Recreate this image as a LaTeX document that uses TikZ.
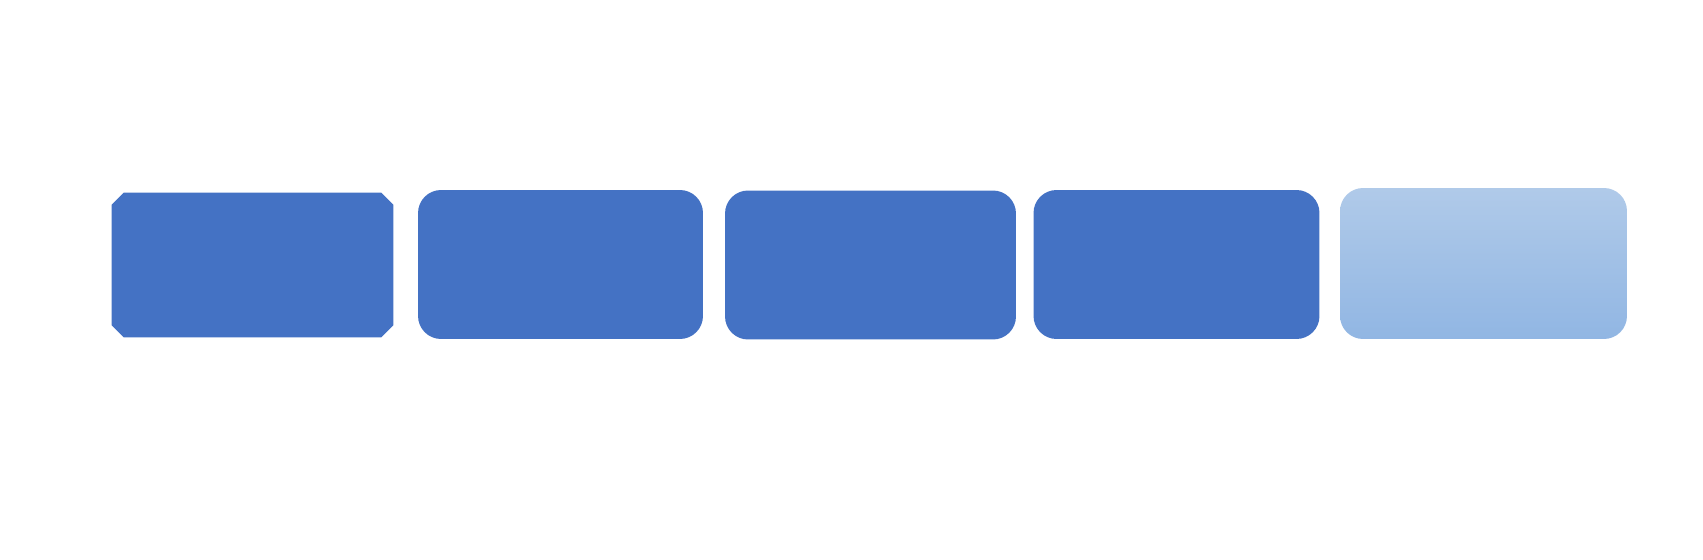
\documentclass[tikz,border=0pt]{standalone}
\usepackage{tikz}
\usetikzlibrary{positioning}
\usepackage{xcolor}
\definecolor{mainblue}{RGB}{68,114,196}
\definecolor{paletop}{RGB}{176,202,233}
\definecolor{palebot}{RGB}{145,182,227}

\begin{document}
\begin{tikzpicture}[x=0.02cm,y=-0.02cm,
  blockbox/.style={fill=mainblue,inner sep=0pt,minimum height=2.98cm,rounded corners=0.46cm},
  cutbox/.style={inner sep=0pt,minimum width=5.62cm,minimum height=2.88cm},
  palebox/.style={top color=paletop,bottom color=palebot,draw=none,inner sep=0pt,
    minimum height=3.02cm,rounded corners=0.46cm}]
\useasboundingbox (0,0) rectangle (1703,560);
% row of blocks
\node[cutbox] (blockA) at (252.5,265) {};
\fill[mainblue] ([xshift=0.24cm]blockA.north west) -- ([xshift=-0.24cm]blockA.north east)
  -- ([yshift=-0.24cm]blockA.north east) -- ([yshift=0.24cm]blockA.south east)
  -- ([xshift=-0.24cm]blockA.south east) -- ([xshift=0.24cm]blockA.south west)
  -- ([yshift=0.24cm]blockA.south west) -- ([yshift=-0.24cm]blockA.north west) -- cycle;
\node[blockbox,minimum width=5.70cm] (blockB) at (560.5,264.5) {};
\node[blockbox,minimum width=5.82cm] (blockC) at (870.5,265) {};
\node[blockbox,minimum width=5.72cm] (blockD) at (1176.5,264.5) {};
% last one, faded
\node[palebox,minimum width=5.74cm] (blockE) at (1483.5,263.5) {};
\end{tikzpicture}
\end{document}
